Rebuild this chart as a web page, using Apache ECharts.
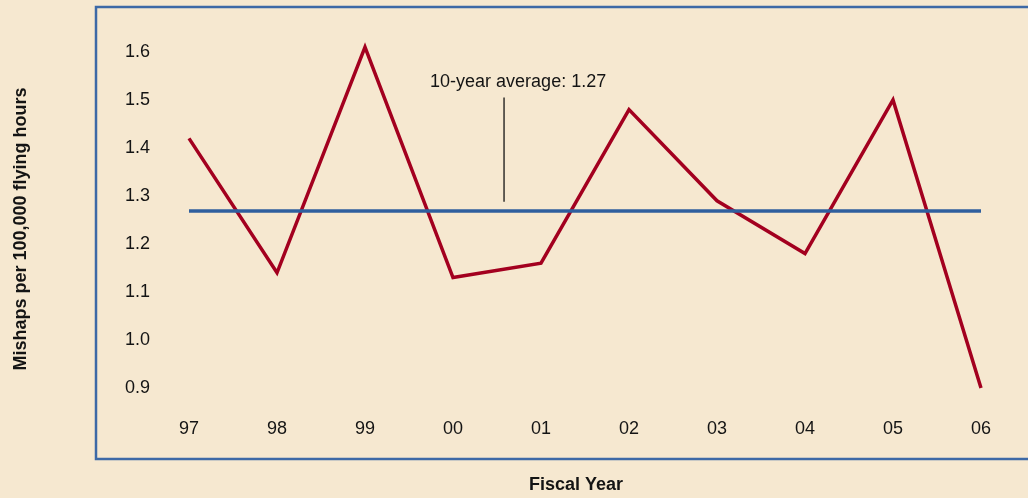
<!DOCTYPE html>
<html lang="en">
  <head>
    <meta charset="utf-8">
    <title>Mishaps per 100,000 flying hours</title>
    <script src="https://cdn.jsdelivr.net/npm/echarts@6/dist/echarts.min.js"></script>
    <style>
      html, body { margin: 0; padding: 0; background: #f6e8d0; }
      #main { width: 1028px; height: 498px; }
    </style>
  </head>
  <body>
    <div id="main"></div>
    <script>
      // data
      var years = ['97', '98', '99', '00', '01', '02', '03', '04', '05', '06'];
      var mishapRate = [1.42, 1.14, 1.61, 1.13, 1.16, 1.48, 1.29, 1.18, 1.50, 0.90];
      var average = 1.27;
      var yTicks = [0.9, 1.0, 1.1, 1.2, 1.3, 1.4, 1.5, 1.6];

      // annotation, in data units (x = category index)
      var noteText = '10-year average: 1.27';
      var noteTextAt = [3.74, 1.538];
      var noteLeaderX = 3.58;
      var noteLeaderY = [1.288, 1.505];

      var font = '"Liberation Sans", Arial, Helvetica, sans-serif';
      var ink = '#141414';

      var myChart = echarts.init(document.getElementById('main'));

      var option = {
          backgroundColor: '#f6e8d0',
          animation: false,
          grid: {
              left: 189,
              right: 47,
              top: 52,
              bottom: 110
          },
          xAxis: {
              type: 'value',
              min: 0,
              max: years.length - 1,
              interval: 1,
              axisLine: { show: false },
              axisTick: { show: false },
              splitLine: { show: false },
              axisLabel: {
                  margin: 32,
                  fontSize: 18,
                  color: ink,
                  fontFamily: font,
                  formatter: function (v) { return years[v]; }
              }
          },
          yAxis: {
              type: 'value',
              min: yTicks[0],
              max: yTicks[yTicks.length - 1],
              interval: 0.1,
              axisLine: { show: false },
              axisTick: { show: false },
              splitLine: { show: false },
              axisLabel: {
                  margin: 39,
                  fontSize: 18,
                  color: ink,
                  fontFamily: font,
                  formatter: function (v) { return v.toFixed(1); }
              }
          },
          graphic: [
              {
                  // blue frame, right side runs off the page
                  type: 'rect',
                  shape: { x: 96, y: 7, width: 1000, height: 452 },
                  style: { fill: 'none', stroke: '#3d69a6', lineWidth: 2.5 },
                  silent: true
              },
              {
                  type: 'text',
                  x: 21,
                  y: 229,
                  rotation: Math.PI / 2,
                  style: {
                      text: 'Mishaps per 100,000 flying hours',
                      font: 'bold 18px ' + font,
                      fill: ink,
                      align: 'center',
                      verticalAlign: 'middle'
                  }
              },
              {
                  type: 'text',
                  x: 576,
                  y: 485,
                  style: {
                      text: 'Fiscal Year',
                      font: 'bold 18px ' + font,
                      fill: ink,
                      align: 'center',
                      verticalAlign: 'middle'
                  }
              }
          ],
          series: [{
              name: 'rate',
              type: 'line',
              symbol: 'none',
              clip: false,
              z: 3,
              lineStyle: { color: '#a3001f', width: 3.5, join: 'miter' },
              data: mishapRate.map(function (v, i) { return [i, v]; }),
              markLine: {
                  silent: true,
                  symbol: 'none',
                  label: { show: false },
                  lineStyle: { color: '#2f5f9e', width: 3.5, type: 'solid' },
                  data: [{ yAxis: average }]
              }
          }, {
              name: 'leader',
              type: 'line',
              symbol: 'none',
              z: 2,
              lineStyle: { color: ink, width: 1.3 },
              data: [[noteLeaderX, noteLeaderY[0]], [noteLeaderX, noteLeaderY[1]]]
          }, {
              name: 'note',
              type: 'scatter',
              symbolSize: 0,
              itemStyle: { opacity: 1 },
              label: {
                  show: true,
                  position: 'inside',
                  fontSize: 18,
                  color: ink,
                  fontFamily: font,
                  formatter: noteText
              },
              data: [noteTextAt]
          }]
      };

      myChart.setOption(option);
    </script>
  </body>
</html>
